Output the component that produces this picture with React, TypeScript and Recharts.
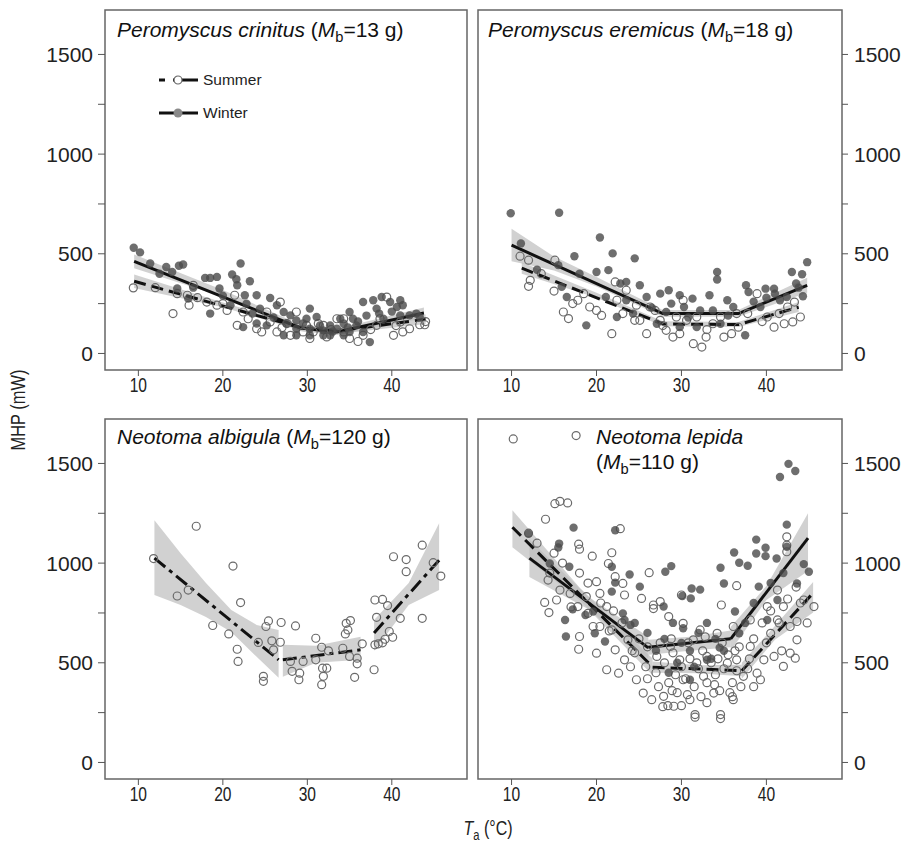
import React from "react";
import { ComposedChart, Scatter, Line, Area, XAxis, YAxis, ReferenceArea } from "recharts";

type Pt = [number, number];
type BandPt = [number, number, number];

const X_DOMAIN: [number, number] = [6.05, 48.9];
const Y_DOMAIN: [number, number] = [-83, 1723];
const X_TICKS = [10, 20, 30, 40];
const Y_TICKS = [0, 250, 500, 750, 1000, 1250, 1500];

// Peromyscus crinitus
const crinitusWinter: Pt[] = [
  [9.45, 530], [10.2, 507], [11.4, 451], [13.3, 434], [14.8, 440], [15.3, 446], [14.0, 409], [14.6, 326],
  [15.9, 275], [17.9, 379], [18.5, 379], [19.3, 384], [18.5, 200], [19.6, 326], [21.1, 396], [21.6, 372],
  [22.1, 451], [23.2, 362], [21.7, 342], [22.6, 292], [24.0, 292], [25.6, 278], [20.9, 242], [22.8, 250],
  [22.4, 132], [26.4, 242], [24.4, 225], [27.2, 208], [28.0, 191], [28.7, 166], [30.3, 225], [31.1, 183],
  [28.7, 124], [30.3, 124], [31.9, 116], [32.7, 141], [33.5, 124], [34.3, 150], [35.0, 208], [35.4, 174],
  [36.6, 258], [37.8, 267], [38.2, 225], [38.8, 283], [39.8, 258], [40.6, 233], [41.0, 267], [41.3, 242],
  [42.1, 191], [42.9, 200], [43.3, 183], [33.9, 174], [31.9, 91], [34.3, 91], [36.6, 108], [28.7, 91],
  [25.2, 141], [27.2, 91], [37.4, 57], [24.0, 150], [30.3, 91], [32.7, 91], [35.0, 108], [39.0, 174],
  [41.0, 191], [35.8, 141], [29.9, 174], [26.0, 180], [29.5, 150], [31.5, 140], [33.0, 110], [34.8, 130],
  [36.0, 160], [37.0, 190], [38.5, 200], [40.0, 210], [27.5, 150], [23.5, 200], [20.0, 290], [16.5, 330],
  [12.5, 400],
];
const crinitusSummer: Pt[] = [
  [9.4, 329], [14.1, 200], [14.6, 300], [15.8, 292], [16.5, 342], [19.3, 242], [20.5, 216], [21.7, 141],
  [21.4, 292], [23.0, 174], [24.0, 124], [24.6, 108], [26.8, 258], [27.6, 150], [28.7, 208], [29.9, 141],
  [30.7, 108], [31.9, 141], [33.5, 174], [34.3, 108], [36.0, 60], [36.6, 91], [39.4, 283], [38.2, 141],
  [40.2, 91], [41.3, 108], [43.3, 144], [43.9, 144], [38.6, 174], [30.3, 75], [32.3, 83], [28.0, 91],
  [26.4, 108], [25.6, 158], [22.4, 208], [18.1, 258], [16.0, 242], [35.0, 75], [41.0, 158], [42.1, 124],
  [34.3, 174], [31.3, 150], [29.5, 108], [25.2, 208], [12.0, 330], [17.0, 280], [20.0, 250], [27.0, 130],
  [32.8, 120], [37.5, 120], [40.5, 140], [44.0, 160],
];
const crinitusWinterFit: Pt[] = [[9.5, 462], [29.2, 128], [33.5, 108], [43.8, 203]];
const crinitusWinterBand: BandPt[] = [[9.5, 428, 497], [20, 285, 318], [29.2, 112, 144], [33.5, 92, 124], [43.8, 176, 230]];
const crinitusSummerFit: Pt[] = [[9.5, 362], [29.5, 126], [33.5, 112], [44, 172]];
const crinitusSummerBand: BandPt[] = [[9.5, 328, 396], [20, 232, 256], [29.5, 112, 140], [33.5, 98, 126], [44, 148, 196]];

// Peromyscus eremicus
const eremicusWinter: Pt[] = [
  [9.9, 703], [15.6, 706], [11.1, 552], [20.4, 582], [21.9, 502], [24.5, 477], [17.4, 488], [20.0, 409],
  [21.4, 418], [22.8, 351], [23.5, 359], [25.1, 342], [16.5, 283], [18.8, 141], [22.4, 183], [21.1, 283],
  [25.9, 283], [27.5, 300], [28.5, 317], [29.8, 292], [31.3, 275], [33.3, 292], [34.2, 409], [34.2, 371],
  [35.4, 267], [37.6, 342], [37.9, 308], [39.9, 325], [40.9, 325], [43.0, 409], [44.2, 397], [44.8, 458],
  [44.3, 287], [43.5, 351], [37.5, 91], [28.2, 208], [30.3, 233], [32.2, 216], [33.7, 216], [29.8, 132],
  [31.8, 132], [34.6, 149], [36.1, 233], [39.3, 233], [41.6, 267], [42.4, 283], [27.1, 149], [24.3, 200],
  [23.5, 267], [15.9, 334], [15.5, 443], [13.0, 420], [18.0, 400], [26.5, 230], [30.8, 180], [35.5, 190],
  [38.5, 260], [41.0, 300], [43.8, 330], [40.0, 280], [28.8, 250],
];
const eremicusSummer: Pt[] = [
  [11.0, 488], [12.0, 468], [12.2, 367], [12.0, 337], [15.1, 468], [15.0, 313], [16.1, 208], [16.7, 175],
  [17.8, 267], [17.2, 250], [19.2, 233], [20.0, 216], [20.6, 191], [21.8, 99], [22.4, 267], [22.2, 359],
  [23.5, 317], [23.1, 200], [24.5, 166], [24.7, 242], [25.9, 99], [26.3, 233], [27.5, 166], [28.2, 116],
  [29.0, 82], [29.8, 99], [30.6, 166], [31.4, 49], [32.4, 32], [32.9, 82], [33.7, 149], [35.0, 82],
  [35.9, 99], [36.7, 132], [37.8, 200], [38.9, 300], [40.1, 183], [40.9, 132], [42.1, 149], [43.1, 158],
  [43.3, 258], [42.5, 233], [44.0, 183], [29.4, 183], [31.8, 183], [34.6, 183], [36.5, 200], [30.2, 267],
  [25.1, 166], [26.9, 216], [13.5, 400], [18.5, 300], [27.8, 140], [33.0, 120], [39.5, 160], [41.5, 200],
];
const eremicusWinterFit: Pt[] = [[10, 543], [27.8, 200], [36.7, 200], [44.8, 342]];
const eremicusWinterBand: BandPt[] = [[10, 462, 625], [15, 416, 486], [20, 336, 384], [27.8, 184, 218], [36.7, 184, 218], [44.8, 305, 380]];
const eremicusSummerFit: Pt[] = [[11.2, 428], [27.8, 148], [36.7, 145], [43.8, 232]];
const eremicusSummerBand: BandPt[] = [[11.2, 400, 458], [20, 280, 305], [27.8, 136, 162], [36.7, 133, 158], [43.8, 208, 258]];

// Neotoma albigula (summer only)
const albigulaSummer: Pt[] = [
  [11.8, 1023], [16.85, 1185], [14.6, 835], [15.9, 865], [21.2, 985], [22.1, 802], [18.8, 687], [20.7, 645],
  [21.7, 568], [21.8, 507], [24.2, 602], [24.8, 432], [24.8, 407], [25.1, 682], [25.4, 710], [25.8, 610],
  [26.0, 565], [26.8, 603], [26.9, 702], [28.6, 685], [28.0, 507], [28.2, 457], [29.1, 448], [29.0, 415],
  [29.5, 507], [31.0, 623], [31.0, 515], [31.7, 578], [31.8, 473], [32.3, 473], [31.9, 432], [31.7, 390],
  [32.5, 560], [34.2, 573], [34.5, 645], [34.8, 665], [34.6, 698], [35.1, 712], [35.0, 532], [35.9, 523],
  [35.9, 495], [35.6, 427], [36.5, 595], [37.9, 465], [38.0, 815], [38.9, 818], [39.5, 787], [38.2, 728],
  [38.0, 590], [38.4, 595], [38.9, 600], [39.7, 657], [39.2, 618], [40.1, 628], [40.2, 1032], [41.7, 1018],
  [41.7, 957], [41.0, 723], [43.6, 1090], [43.6, 723], [44.9, 1002], [45.8, 935],
];
const albigulaFit1: Pt[] = [[11.9, 1025], [26.6, 515]];
const albigulaBand1: BandPt[] = [[11.9, 840, 1215], [15, 790, 1050], [18, 730, 900], [21, 655, 765], [24, 530, 690], [26.6, 425, 665]];
const albigulaFit2: Pt[] = [[27.1, 515], [36.3, 565]];
const albigulaBand2: BandPt[] = [[27.1, 430, 590], [31, 500, 585], [36.3, 515, 630]];
const albigulaFit3: Pt[] = [[37.9, 650], [45.6, 1015]];
const albigulaBand3: BandPt[] = [[37.9, 560, 715], [42, 790, 900], [45.6, 865, 1200]];

// Neotoma lepida
const lepidaSummer: Pt[] = [
  [10.2, 1623], [17.6, 1640], [15.1, 1298], [15.7, 1310], [16.6, 1302], [14.0, 1220], [17.9, 1095], [18.0, 1070],
  [19.5, 1035], [21.8, 1052], [21.4, 998], [22.8, 1173], [20.0, 907], [13.9, 803], [14.4, 752], [15.3, 815],
  [15.7, 865], [14.3, 915], [16.9, 848], [17.8, 782], [18.8, 832], [18.0, 632], [17.9, 568], [19.0, 748],
  [20.4, 848], [21.2, 782], [22.2, 932], [23.1, 898], [23.3, 840], [25.3, 823], [26.2, 952], [26.7, 772],
  [19.6, 682], [20.0, 548], [21.2, 465], [22.2, 565], [23.3, 515], [22.6, 448], [24.7, 415], [25.5, 348],
  [26.5, 315], [23.7, 615], [21.8, 665], [20.4, 682], [30.0, 840], [36.5, 887], [34.7, 790], [26.7, 790],
  [27.5, 807], [28.5, 732], [32.2, 665], [41.3, 865], [42.4, 1132], [42.4, 1090], [42.4, 1057], [43.6, 707],
  [45.6, 782], [42.8, 548], [43.4, 523], [42.0, 482], [39.7, 515], [38.9, 448], [39.3, 415], [37.3, 432],
  [34.6, 240], [31.6, 240], [36.1, 315], [33.8, 348], [31.0, 315], [29.1, 282], [27.9, 332], [30.2, 415],
  [32.6, 432], [35.4, 498], [38.1, 582], [40.5, 648], [41.3, 715], [43.6, 615], [44.4, 815], [42.0, 782],
  [42.8, 682], [40.1, 782], [38.1, 715], [36.1, 682], [34.2, 648], [31.4, 615], [28.7, 582], [27.1, 532],
  [29.8, 515], [33.0, 532], [36.5, 515], [30.2, 698], [40.9, 532], [27.0, 450], [28.0, 500], [28.5, 400],
  [29.0, 550], [29.5, 350], [30.0, 480], [30.5, 420], [31.0, 520], [31.5, 380], [32.0, 470], [32.5, 560],
  [33.0, 400], [33.5, 500], [34.0, 440], [34.5, 360], [35.0, 470], [35.5, 540], [36.0, 400], [36.5, 460],
  [37.0, 380], [26.0, 580], [25.0, 620], [24.5, 550], [27.5, 600], [28.8, 620], [30.8, 600], [32.8, 630],
  [34.8, 600], [36.8, 580], [38.0, 520], [38.5, 620], [39.5, 700], [40.5, 760], [41.5, 700], [42.5, 820],
  [43.5, 880], [44.0, 800], [44.8, 700], [41.8, 560], [40.0, 600], [27.8, 280], [30.0, 285], [31.6, 227],
  [34.6, 220], [28.4, 285], [33.0, 300], [36.0, 330], [38.5, 380], [23.0, 700], [22.0, 760], [20.5, 800],
  [19.0, 900], [18.0, 950], [16.0, 1000], [15.0, 1050], [13.0, 1100], [12.0, 1150], [14.5, 950], [17.0, 780],
  [21.5, 660], [24.0, 480], [26.0, 420], [27.3, 380], [28.9, 360], [30.7, 340], [32.3, 330], [33.9, 390],
  [35.7, 350], [37.8, 470], [29.3, 440], [31.8, 500], [34.3, 520], [36.3, 560], [25.8, 480], [24.2, 560],
];
const lepidaWinter: Pt[] = [
  [17.3, 1178], [22.2, 1165], [15.5, 1078], [15.6, 1098], [14.5, 998], [16.8, 982], [12.0, 1148], [21.8, 982],
  [23.9, 943], [22.2, 902], [25.1, 882], [21.8, 857], [17.2, 768], [16.3, 715], [16.4, 632], [18.7, 740],
  [21.0, 607], [19.8, 648], [19.6, 757], [23.1, 748], [23.3, 715], [24.0, 690], [41.6, 1432], [42.6, 1498],
  [43.4, 1462], [42.4, 1193], [38.8, 1118], [39.9, 1077], [38.8, 1048], [39.9, 1035], [41.2, 1023], [42.4, 1082],
  [44.4, 995], [45.0, 957], [36.2, 1053], [36.8, 1002], [37.8, 987], [34.6, 977], [35.0, 898], [31.2, 873],
  [32.2, 867], [31.1, 823], [28.8, 985], [28.1, 957], [39.1, 882], [27.9, 782], [36.3, 757], [30.2, 673],
  [43.6, 898], [41.3, 815], [40.1, 715], [36.8, 648], [34.5, 576], [31.0, 415], [33.0, 515], [27.0, 560],
  [28.0, 620], [29.0, 700], [30.0, 600], [31.0, 560], [32.0, 650], [33.0, 700], [34.0, 620], [35.0, 560],
  [29.5, 500], [31.5, 480], [33.5, 520], [28.5, 450], [24.5, 700], [26.0, 650], [30.1, 835], [37.5, 700],
  [38.5, 800], [40.5, 900], [42.0, 950],
];
const lepidaSummerFit1: Pt[] = [[10.1, 1180], [26.6, 480]];
const lepidaSummerBand1: BandPt[] = [[10.1, 1080, 1265], [18, 815, 878], [26.6, 438, 522]];
const lepidaSummerFit2: Pt[] = [[26.6, 478], [37.1, 460]];
const lepidaSummerBand2: BandPt[] = [[26.6, 450, 506], [32, 448, 488], [37.1, 432, 490]];
const lepidaSummerFit3: Pt[] = [[37.1, 460], [45.5, 850]];
const lepidaSummerBand3: BandPt[] = [[37.1, 420, 500], [41, 615, 685], [45.5, 752, 905]];
const lepidaWinterFit1: Pt[] = [[12.1, 1025], [26.1, 575]];
const lepidaWinterBand1: BandPt[] = [[12.1, 930, 1120], [19, 770, 832], [26.1, 520, 630]];
const lepidaWinterFit2: Pt[] = [[26.1, 578], [35.8, 620]];
const lepidaWinterBand2: BandPt[] = [[26.1, 540, 616], [31, 560, 630], [35.8, 578, 662]];
const lepidaWinterFit3: Pt[] = [[35.8, 620], [44.9, 1125]];
const lepidaWinterBand3: BandPt[] = [[35.8, 560, 680], [40, 815, 885], [44.9, 960, 1250]];

const FONT = '"Liberation Sans", Arial, Helvetica, sans-serif';

interface Seg {
  fit: Pt[];
  band?: BandPt[];
  dash?: string;
}

interface PanelProps {
  left: number;
  top: number;
  side: "left" | "right";
  winter?: Pt[];
  summer?: Pt[];
  segs: Seg[];
}

const FilledDot = (p: any) => (
  <circle cx={p.cx} cy={p.cy} r={4.2} fill="#4a4a4a" fillOpacity={0.8} />
);
const OpenDot = (p: any) => (
  <circle cx={p.cx} cy={p.cy} r={4} fill="none" stroke="#6a6a6a" strokeWidth={1.2} />
);

// x tick labels in the figure are horizontally squeezed
const XTick = (p: any) => (
  <text
    x={p.x}
    y={p.y}
    dy={14}
    textAnchor="middle"
    fontSize={20}
    fontFamily={FONT}
    fill="#222"
    transform={`translate(${p.x} 0) scale(0.78 1) translate(${-p.x} 0)`}
  >
    {p.payload.value}
  </text>
);

function Panel({ left, top, side, winter, summer, segs }: PanelProps) {
  const isLeft = side === "left";
  const width = isLeft ? 475 : 433;
  const margin = isLeft
    ? { top: 10, right: 8, bottom: 5, left: 50 }
    : { top: 10, right: 6, bottom: 5, left: 8 };
  return (
    <div style={{ position: "absolute", left, top }}>
      <ComposedChart width={width} height={405} margin={margin}>
        <XAxis
          type="number"
          dataKey="x"
          domain={X_DOMAIN}
          ticks={X_TICKS}
          allowDataOverflow
          axisLine={false}
          tickSize={6}
          tickMargin={2}
          tickLine={{ stroke: "#555" }}
          tick={XTick}
          height={30}
        />
        <YAxis
          type="number"
          orientation={side}
          domain={Y_DOMAIN}
          ticks={Y_TICKS}
          allowDataOverflow
          axisLine={false}
          tickSize={isLeft ? 7 : 6}
          tickMargin={isLeft ? 5 : 6}
          tickLine={{ stroke: "#555" }}
          tick={{ fill: "#222", fontSize: 21, fontFamily: FONT }}
          width={55}
          tickFormatter={(v: number) => (v % 500 === 0 ? String(v) : "")}
        />
        {segs.map((s, i) =>
          s.band ? (
            <Area
              key={"b" + i}
              data={s.band.map(([x, lo, hi]) => ({ x, band: [lo, hi] }))}
              dataKey="band"
              type="linear"
              fill="#bdbdbd"
              fillOpacity={0.7}
              stroke="none"
              isAnimationActive={false}
            />
          ) : null
        )}
        {summer && (
          <Scatter
            data={summer.map(([x, y]) => ({ x, y }))}
            dataKey="y"
            shape={OpenDot}
            isAnimationActive={false}
          />
        )}
        {winter && (
          <Scatter
            data={winter.map(([x, y]) => ({ x, y }))}
            dataKey="y"
            shape={FilledDot}
            isAnimationActive={false}
          />
        )}
        {segs.map((s, i) => (
          <Line
            key={"l" + i}
            data={s.fit.map(([x, y]) => ({ x, y }))}
            dataKey="y"
            type="linear"
            stroke="#111"
            strokeWidth={3}
            strokeDasharray={s.dash}
            dot={false}
            activeDot={false}
            isAnimationActive={false}
          />
        ))}
        <ReferenceArea
          x1={X_DOMAIN[0]}
          x2={X_DOMAIN[1]}
          y1={Y_DOMAIN[0]}
          y2={Y_DOMAIN[1]}
          fill="none"
          stroke="#666"
          strokeWidth={1.5}
          ifOverflow="visible"
        />
      </ComposedChart>
    </div>
  );
}

const Mb = ({ value }: { value: string }) => (
  <span style={{ fontStyle: "normal" }}>
    (<i>M</i>
    <sub style={{ fontSize: "0.7em" }}>b</sub>={value} g)
  </span>
);

function Title({ left, top, children }: { left: number; top: number; children: React.ReactNode }) {
  return (
    <div
      style={{
        position: "absolute",
        left,
        top,
        fontFamily: FONT,
        fontSize: 21,
        lineHeight: "25px",
        color: "#111",
        whiteSpace: "nowrap",
      }}
    >
      {children}
    </div>
  );
}

function Legend() {
  const row = (label: string, filled: boolean, y: number) => (
    <div style={{ position: "absolute", left: 158, top: y - 10, display: "flex", alignItems: "center", height: 20 }}>
      <svg width={42} height={20}>
        <line x1={1} y1={10} x2={40} y2={10} stroke="#111" strokeWidth={3} strokeDasharray={filled ? undefined : "6 8 100"} />
        {filled ? (
          <circle cx={20} cy={10} r={4.5} fill="#8a8a8a" />
        ) : (
          <circle cx={20} cy={10} r={4} fill="#fff" stroke="#666" strokeWidth={1.2} />
        )}
      </svg>
      <span style={{ fontFamily: FONT, fontSize: 15.5, color: "#222", marginLeft: 3 }}>{label}</span>
    </div>
  );
  return (
    <>
      {row("Summer", false, 80)}
      {row("Winter", true, 113)}
    </>
  );
}

export default function App() {
  return (
    <div style={{ position: "absolute", left: 0, top: 0, width: 903, height: 850, background: "#fff" }}>
      <Panel
        left={0}
        top={0}
        side="left"
        winter={crinitusWinter}
        summer={crinitusSummer}
        segs={[
          { fit: crinitusSummerFit, band: crinitusSummerBand, dash: "12 6" },
          { fit: crinitusWinterFit, band: crinitusWinterBand },
        ]}
      />
      <Panel
        left={470}
        top={0}
        side="right"
        winter={eremicusWinter}
        summer={eremicusSummer}
        segs={[
          { fit: eremicusSummerFit, band: eremicusSummerBand, dash: "12 6" },
          { fit: eremicusWinterFit, band: eremicusWinterBand },
        ]}
      />
      <Panel
        left={0}
        top={409}
        side="left"
        summer={albigulaSummer}
        segs={[
          { fit: albigulaFit1, band: albigulaBand1, dash: "14 5 4 5" },
          { fit: albigulaFit2, band: albigulaBand2, dash: "14 5 4 5" },
          { fit: albigulaFit3, band: albigulaBand3, dash: "14 5 4 5" },
        ]}
      />
      <Panel
        left={470}
        top={409}
        side="right"
        winter={lepidaWinter}
        summer={lepidaSummer}
        segs={[
          { fit: lepidaSummerFit1, band: lepidaSummerBand1, dash: "12 6" },
          { fit: lepidaSummerFit2, band: lepidaSummerBand2, dash: "12 6" },
          { fit: lepidaSummerFit3, band: lepidaSummerBand3, dash: "12 6" },
          { fit: lepidaWinterFit1, band: lepidaWinterBand1 },
          { fit: lepidaWinterFit2, band: lepidaWinterBand2 },
          { fit: lepidaWinterFit3, band: lepidaWinterBand3 },
        ]}
      />

      <Title left={117} top={17}>
        <i>Peromyscus crinitus</i> <Mb value="13" />
      </Title>
      <Title left={488} top={17}>
        <i>Peromyscus eremicus</i> <Mb value="18" />
      </Title>
      <Title left={117} top={424}>
        <i>Neotoma albigula</i> <Mb value="120" />
      </Title>
      <Title left={596} top={424}>
        <i>Neotoma lepida</i>
        <br />
        <Mb value="110" />
      </Title>
      <Legend />

      <div
        style={{
          position: "absolute",
          left: 18,
          top: 410,
          transform: "translate(-50%, -50%) rotate(-90deg) scaleX(0.82)",
          fontFamily: FONT,
          fontSize: 20,
          color: "#222",
          whiteSpace: "nowrap",
        }}
      >
        MHP (mW)
      </div>
      <div
        style={{
          position: "absolute",
          left: 488,
          top: 830,
          transform: "translate(-50%, -50%) scaleX(0.8)",
          fontFamily: FONT,
          fontSize: 20,
          color: "#222",
          whiteSpace: "nowrap",
        }}
      >
        <i>T</i>
        <sub style={{ fontSize: "0.7em" }}>a</sub> (°C)
      </div>
    </div>
  );
}
